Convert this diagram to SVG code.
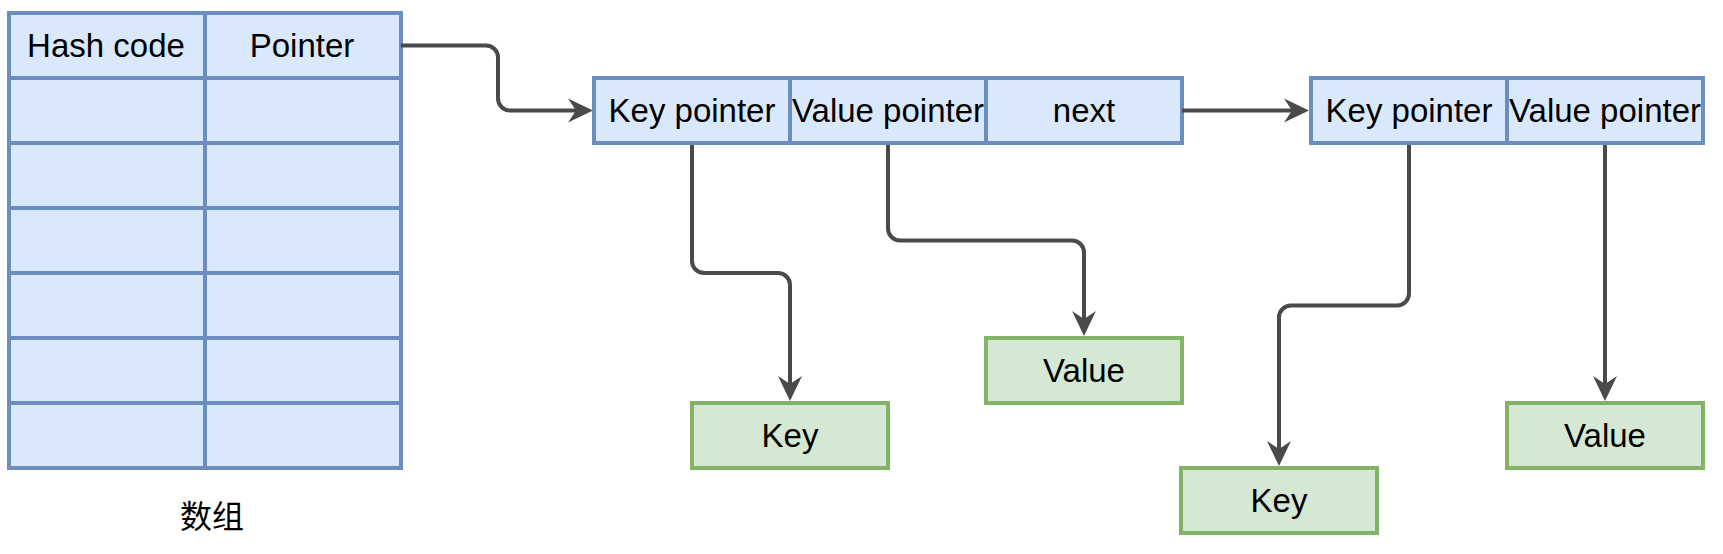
<svg xmlns="http://www.w3.org/2000/svg" width="1723" height="554" viewBox="0 0 1723 554">
<style>
.b{fill:#dae8fc;stroke:#6c8ebf;stroke-width:4}
.g{fill:#d5e8d4;stroke:#82b366;stroke-width:4}
.t{font-family:"Liberation Sans",Arial,sans-serif;font-size:33px;fill:#000;text-anchor:middle}
.c{fill:none;stroke:#4a4a4a;stroke-width:4}
</style>
<defs>
<marker id="arr" markerUnits="userSpaceOnUse" viewBox="-10 -14 30 28" markerWidth="30" markerHeight="28" refX="0" refY="0" orient="auto">
<path d="M17,0 L-8,-12 L0,0 L-8,12 Z" fill="#4a4a4a"/>
</marker>
</defs>
<rect width="1723" height="554" fill="#fff"/>
<g id="array">
<rect class="b" x="9" y="13" width="196" height="65"/><rect class="b" x="205" y="13" width="196" height="65"/>
<rect class="b" x="9" y="78" width="196" height="65"/><rect class="b" x="205" y="78" width="196" height="65"/>
<rect class="b" x="9" y="143" width="196" height="65"/><rect class="b" x="205" y="143" width="196" height="65"/>
<rect class="b" x="9" y="208" width="196" height="65"/><rect class="b" x="205" y="208" width="196" height="65"/>
<rect class="b" x="9" y="273" width="196" height="65"/><rect class="b" x="205" y="273" width="196" height="65"/>
<rect class="b" x="9" y="338" width="196" height="65"/><rect class="b" x="205" y="338" width="196" height="65"/>
<rect class="b" x="9" y="403" width="196" height="65"/><rect class="b" x="205" y="403" width="196" height="65"/>
<text class="t" x="106" y="57">Hash code</text>
<text class="t" x="302" y="57">Pointer</text>
</g>
<g id="array-label">
<text x="212" y="528" style="font-family:'Noto Sans CJK SC','Noto Sans',sans-serif;font-size:32px;fill:#000;text-anchor:middle">数组</text>
</g>
<g id="entry1">
<rect class="b" x="594" y="78" width="196" height="65"/>
<rect class="b" x="790" y="78" width="196" height="65"/>
<rect class="b" x="986" y="78" width="196" height="65"/>
<text class="t" x="692" y="122">Key pointer</text>
<text class="t" x="888" y="122">Value pointer</text>
<text class="t" x="1084" y="122">next</text>
</g>
<g id="entry2">
<rect class="b" x="1311" y="78" width="196" height="65"/>
<rect class="b" x="1507" y="78" width="196" height="65"/>
<text class="t" x="1409" y="122">Key pointer</text>
<text class="t" x="1605" y="122">Value pointer</text>
</g>
<g id="key1"><rect class="g" x="692" y="403" width="196" height="65"/><text class="t" x="790" y="447">Key</text></g>
<g id="value1"><rect class="g" x="986" y="338" width="196" height="65"/><text class="t" x="1084" y="382">Value</text></g>
<g id="key2"><rect class="g" x="1181" y="468" width="196" height="65"/><text class="t" x="1279" y="512">Key</text></g>
<g id="value2"><rect class="g" x="1507" y="403" width="196" height="65"/><text class="t" x="1605" y="447">Value</text></g>
<g id="connectors">
<path class="c" marker-end="url(#arr)" d="M401,45.5 H486 A12,12 0 0 1 498,57.5 V98.5 A12,12 0 0 0 510,110.5 H576"/>
<path class="c" marker-end="url(#arr)" d="M1182,110.5 H1292"/>
<path class="c" marker-end="url(#arr)" d="M692,145 V261 A12,12 0 0 0 704,273 H778 A12,12 0 0 1 790,285 V384"/>
<path class="c" marker-end="url(#arr)" d="M888,145 V228.5 A12,12 0 0 0 900,240.5 H1072 A12,12 0 0 1 1084,252.5 V319"/>
<path class="c" marker-end="url(#arr)" d="M1409,145 V293.5 A12,12 0 0 1 1397,305.5 H1291 A12,12 0 0 0 1279,317.5 V449"/>
<path class="c" marker-end="url(#arr)" d="M1605,145 V384"/>
</g>
</svg>
